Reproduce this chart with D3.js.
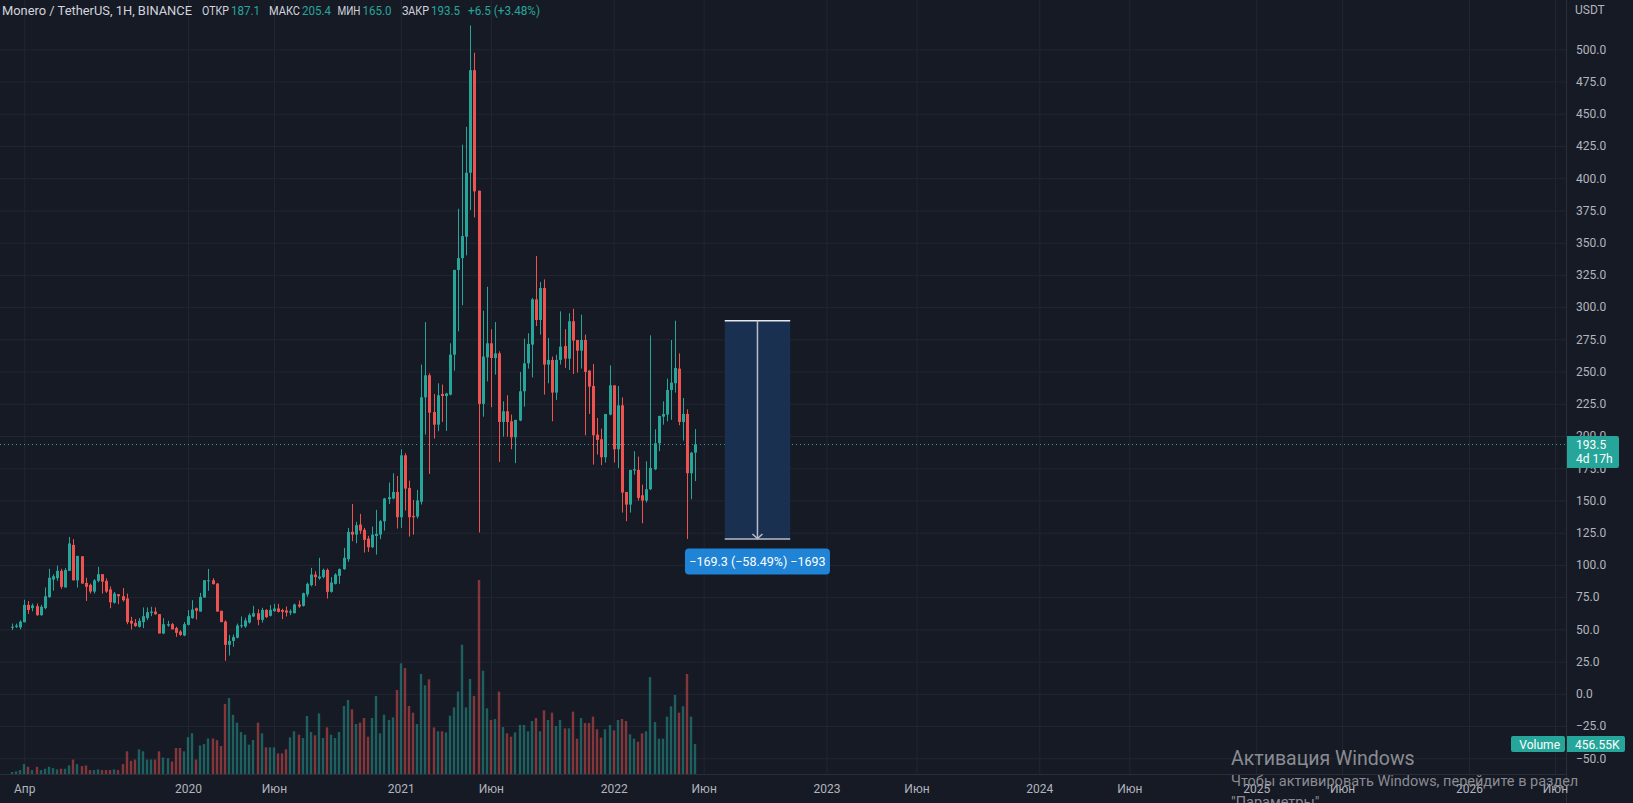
<!DOCTYPE html>
<html><head><meta charset="utf-8">
<script src="https://cdn.jsdelivr.net/npm/d3@7"></script>
<style>
html,body{margin:0;padding:0;background:#161a25;overflow:hidden}
svg{display:block}
text{font-family:Roboto,"Liberation Sans",sans-serif}
</style></head><body>
<svg id="c" width="1633" height="803"></svg>
<script>
// ---------- DATA ----------
const firstWeek = "2019-03-11"; // weekly bars, Monday dates
const openP = [51.5,52,51.5,55.5,69,66.5,68,61,66.5,75,88.6,89.7,95.4,82.5,95.4,115.5,88,106.7,86,84.5,79.3,87.6,92.8,87.6,81,70.6,77.3,75.7,74,56.6,55,52,55.6,58.7,62.8,63.8,61.8,46.8,53,54,51,48.3,45.2,53.5,58.7,66.4,63.8,74.7,87.6,88.1,85.5,64.4,56,38,41,43.5,52.5,52.2,55.3,60,62.5,57.4,65.1,60.5,64.1,66.2,65,64.6,63,62.5,69.3,68.2,77,84.3,92.5,89.5,90.5,96.1,79.1,85.3,91.5,96.7,104.4,125.6,123.5,131.3,127.2,120.4,113.7,122.5,123.5,133.9,151,151.5,156.6,137,185,159.7,138,137.5,149,230,247.1,218.6,208.8,232.6,231,232.1,263.1,328.8,338,354.6,404.2,483.8,390.3,224.9,261,271.9,260.5,264.1,210.9,219.2,211.4,199,212,234.7,256.4,270.9,306,290,314.8,255.4,259,233.7,259,269.8,260,289,274.5,266.2,274.5,250.7,238.8,201.1,197.5,183.5,216.6,239.3,189.7,223.8,156.6,146.8,173.2,173.7,154,149.9,158.7,174.2,194.4,215,216.6,235.7,240.9,252.3,210.9,217.1,171.1,187.1];
const highP = [54.5,54.5,57,73,72,70,70,69,82.5,97,92.7,99.5,97,97.5,121.7,120,107,106.7,90,85.5,89,98.5,92.8,89.5,83.3,79,77.3,82,77.8,59.7,58,58.7,67,67,67.5,67,61.8,58.7,56.6,55,52,49.3,55.6,65,72.6,66.9,78.3,88.1,96.9,89.7,86,64.4,57,45.7,46,54.5,60,59,62.5,68.2,65.6,66.7,65.6,68.8,69.8,69.8,66,67.7,65.5,70,72.4,78.5,86.3,97.7,95.1,105.5,97.2,97.2,90.5,93.5,97.2,113.2,128.7,147.3,133.4,139.6,128.7,122.5,129.7,142.7,134.9,152,163.9,171.1,169,189.7,186.6,165.4,150.4,158.2,255.4,288.4,248.6,232.6,240.9,239.9,233.5,271.9,329,376.3,426,439.9,518.5,497.3,390.3,297.2,315.8,282.8,288.4,265.7,226.9,231.6,216.6,212.5,249.7,275.5,279.7,307.1,339.6,319.5,321.5,276,261.6,263.1,296.7,282.8,295.2,298.8,274.5,294.1,278.6,251,255.9,214,205.7,217.1,254.8,239.3,238.8,230,156.6,173.7,188.2,184,162.3,180.4,278.1,205.2,215.6,226.9,244.5,274.5,289.4,264.1,229.5,220.7,187.7,205.4];
const lowP = [49.5,51,50,55.5,62,64,60.5,60.5,65.5,74.5,80,87.6,81.4,82.5,95.4,88,82.4,85.5,72,77.8,77.8,86.5,77.8,78.3,66.4,70,69.5,71.5,54,49.9,51.9,51.4,51,57.1,60.2,61.2,46.8,46.3,52,50,44.2,45,44.7,53,58.2,57.6,63.8,74.7,79.9,85,63.8,55.6,25.6,29.7,36.5,43,51,51.2,54.5,59.5,53.2,55.3,59,60,63.6,63.1,57.9,60,61,62.5,66.7,67.7,75.2,83.3,83.7,88.5,89.5,73.9,78.5,84.8,85.3,96.2,102.4,118.4,116.8,124,109.6,110.1,113.2,108,120,126.6,147.3,151,128.2,128.7,142.2,122,123.5,136,146.8,201.1,170.6,198,203.7,210.9,204,231.5,250.7,281.2,301.4,340.1,375.3,369.6,125.1,215,242.4,222.3,247.6,179.9,199.5,199.5,189.7,178.9,211.5,222.8,252.3,245.5,285.3,278.6,232.1,240.9,211.4,228,255.4,252.8,251.2,248.1,249.2,252.3,200.6,217.1,177.8,185.6,177.3,179.4,216,179.4,175.2,140.6,133.9,140.6,170,149.9,132.3,148.4,158,173.5,188.2,208.8,211.4,212.5,233.7,208.3,196.4,120.1,150.9,165.0];
const closeP = [52,53,56,69,65,68.5,61,67.5,75.7,90,91.2,95.4,83,96,116.6,88,107,85.5,83,79.3,88,92.8,87,79.3,71,77.8,75.7,72.6,55.6,54.5,52.5,56.6,60.2,63.3,63.8,61.8,46.8,54,54,50,47.3,45.7,54,60.2,65.4,64.4,75.2,88.1,88.1,85,63.8,55.6,38,41,44,53,53.2,56.9,61,62.5,57.4,65.1,59.4,65.1,66.2,63.6,63.6,63,64,69.3,67.7,78,85.3,92.5,90.5,91,96.1,79.1,86.3,92.5,96.7,105.5,125.6,123.5,130.8,126.6,119.4,113.7,123.5,124.1,133.9,151.5,152.5,156.6,137,185,159.2,137,137,150,230,247.1,218.1,208.8,231.6,231,233,263.1,328.8,338,355.1,404.2,483.8,389.8,224.9,261.6,271.9,260.5,264.1,210.9,219.2,210.9,199,212.5,234.7,256.4,271.4,306,290,314.8,255.4,259,233.7,259,269.3,260,289,274,266.2,274.5,249.7,238.3,200.6,197,183.5,217.1,239.3,189.7,223.8,156.1,146.8,173.7,174.2,152,149.9,158.7,175.2,194.4,215.6,217.1,235.7,241.4,252.8,210.9,217.1,171.1,187.0,193.5];
const volumeK = [30,40,60,150,110,60,110,60,80,110,90,70,80,80,130,220,150,120,130,60,60,70,60,60,60,70,60,150,345,200,220,375,345,220,220,220,345,250,240,190,395,395,345,560,620,220,435,455,540,540,515,425,1065,1155,900,780,638,598,446,517,780,618,405,405,405,314,314,375,557,649,598,547,882,638,588,922,547,709,598,547,638,1034,1125,983,760,780,851,567,851,1186,618,902,821,861,1277,1682,1611,1034,932,760,1520,1348,1439,709,649,649,633,887,1013,1252,1966,1013,1444,1186,2949,1571,998,821,836,1252,714,618,567,633,745,745,649,806,851,649,968,821,932,730,821,694,694,948,537,851,775,775,872,679,552,679,745,664,821,836,806,603,537,491,618,649,1474,790,537,537,872,1029,1201,932,1029,1520,872,456.55];
const priceTicks = [-50,-25,0,25,50,75,100,125,150,175,200,225,250,275,300,325,350,375,400,425,450,475,500];
const timeTickDates = ["2019-04-01","2020-01-06","2020-06-01","2021-01-04","2021-06-07","2022-01-03","2022-06-06","2023-01-02","2023-06-05","2024-01-01","2024-06-03","2025-01-06","2025-06-02","2026-01-05","2026-06-01"];
const timeTickLabels = ["Апр","2020","Июн","2021","Июн","2022","Июн","2023","Июн","2024","Июн","2025","Июн","2026","Июн"];
const lastPrice = 193.5;
const measureFrom = 289.4, measureTo = 120.1;
const measureStart = "2022-07-12", measureEnd = "2022-11-01";
const measureText = "\u2212169.3 (\u221258.49%) \u22121693";

// ---------- LAYOUT ----------
const W = 1633, H = 803, plotR = 1566, plotB = 774;
const UP = "#26a69a", DOWN = "#ef5350", GRID = "#222632", TXT = "#b2b5be";
const parse = d3.utcParse("%Y-%m-%d");
const t0 = parse(firstWeek);
const dates = openP.map((_, i) => d3.utcMonday.offset(t0, i));
const bars = dates.map((d, i) => ({d, o: openP[i], h: highP[i], l: lowP[i], c: closeP[i], v: volumeK[i]}));

const x = d3.scaleUtc().domain([parse("2020-01-06"), parse("2026-01-05")]).range([188, 1469]);
const y = d3.scaleLinear().domain([0, 500]).range([693.8, 49.3]);
const vy = d3.scaleLinear().domain([0, 3000]).range([plotB, plotB - 3000 / 15.2]);

const svg = d3.select("#c");
svg.append("rect").attr("width", W).attr("height", H).attr("fill", "#161a25");
svg.append("defs").append("clipPath").attr("id", "plot").append("rect")
  .attr("x", 0).attr("y", 0).attr("width", plotR).attr("height", plotB);

const tickDates = timeTickDates.map(parse);
// grid
const grid = svg.append("g").attr("clip-path", "url(#plot)");
grid.append("g").attr("transform", `translate(0,${plotB})`)
  .call(d3.axisBottom(x).tickValues(tickDates).tickSize(-plotB).tickFormat(""))
  .call(g => g.select(".domain").remove())
  .call(g => g.selectAll("line").attr("stroke", GRID).attr("stroke-width", 1));
grid.append("g")
  .call(d3.axisRight(y).tickValues(priceTicks).tickSize(plotR).tickFormat(""))
  .call(g => g.select(".domain").remove())
  .call(g => g.selectAll("line").attr("stroke", GRID).attr("stroke-width", 1));

const plot = svg.append("g").attr("clip-path", "url(#plot)");
const px = d => Math.round(x(d));
// volume
plot.append("g").selectAll("rect").data(bars).join("rect")
  .attr("x", b => px(b.d) - 1.2).attr("width", 2.4)
  .attr("y", b => vy(b.v)).attr("height", b => plotB - vy(b.v))
  .attr("fill", b => b.c >= b.o ? UP : DOWN).attr("fill-opacity", 0.5);
// candles
const cg = plot.append("g");
cg.selectAll("line").data(bars).join("line")
  .attr("x1", b => px(b.d) + 0.5).attr("x2", b => px(b.d) + 0.5)
  .attr("y1", b => y(b.h)).attr("y2", b => y(b.l))
  .attr("stroke", b => b.c >= b.o ? UP : DOWN).attr("stroke-width", 1);
cg.selectAll("rect").data(bars).join("rect")
  .attr("x", b => px(b.d) - 1).attr("width", 3)
  .attr("y", b => y(Math.max(b.o, b.c)))
  .attr("height", b => Math.max(1, Math.abs(y(b.o) - y(b.c))))
  .attr("fill", b => b.c >= b.o ? UP : DOWN);

// last price dotted line
plot.append("line").attr("x1", 0).attr("x2", plotR)
  .attr("y1", Math.round(y(lastPrice)) + 0.5).attr("y2", Math.round(y(lastPrice)) + 0.5)
  .attr("stroke", UP).attr("stroke-width", 1).attr("stroke-dasharray", "1,3");

// measure tool
const mx0 = x(parse(measureStart)), mx1 = x(parse(measureEnd));
const my0 = y(measureFrom), my1 = y(measureTo);
const mxc = (mx0 + mx1) / 2;
const mg = svg.append("g");
mg.append("rect").attr("x", mx0).attr("y", my0).attr("width", mx1 - mx0).attr("height", my1 - my0)
  .attr("fill", "#1a3050");
mg.append("line").attr("x1", mx0).attr("x2", mx1).attr("y1", my0).attr("y2", my0).attr("stroke", "#e6e8ee").attr("stroke-width", 1.5);
mg.append("line").attr("x1", mx0).attr("x2", mx1).attr("y1", my1).attr("y2", my1).attr("stroke", "#b8bcc6").attr("stroke-width", 1.5);
mg.append("line").attr("x1", mxc).attr("x2", mxc).attr("y1", my0).attr("y2", my1 - 1).attr("stroke", "#b8bcc6").attr("stroke-width", 1.5);
mg.append("path").attr("d", `M${mxc - 5},${my1 - 5} L${mxc},${my1 - 0.5} L${mxc + 5},${my1 - 5}`)
  .attr("fill", "none").attr("stroke", "#b8bcc6").attr("stroke-width", 1.5);
mg.append("rect").attr("x", mxc - 72.5).attr("y", my1 + 9.5).attr("width", 145).attr("height", 26).attr("rx", 4)
  .attr("fill", "#1f83d6");
mg.append("text").attr("x", mxc).attr("y", my1 + 27).attr("text-anchor", "middle")
  .attr("fill", "#ffffff").attr("font-size", 12.5).text(measureText);

// separators
svg.append("line").attr("x1", plotR + 0.5).attr("x2", plotR + 0.5).attr("y1", 0).attr("y2", H).attr("stroke", "#2a2e39");
svg.append("line").attr("x1", 0).attr("x2", plotR).attr("y1", plotB + 0.5).attr("y2", plotB + 0.5).attr("stroke", "#2a2e39");

// price axis
svg.append("g").attr("transform", `translate(${plotR},0)`)
  .call(d3.axisRight(y).tickValues(priceTicks).tickSize(0).tickPadding(10).tickFormat(d3.format(".1f")))
  .call(g => g.select(".domain").remove())
  .call(g => g.selectAll("text").attr("fill", TXT).attr("font-size", 12).attr("font-family", "Roboto,sans-serif"));
svg.append("text").attr("x", 1575).attr("y", 14).attr("fill", TXT).attr("font-size", 12).text("USDT");

// time axis
svg.append("g").attr("transform", `translate(0,${plotB})`)
  .call(d3.axisBottom(x).tickValues(tickDates).tickSize(0).tickPadding(10)
    .tickFormat((d, i) => timeTickLabels[i]))
  .call(g => g.select(".domain").remove())
  .call(g => g.selectAll("text").attr("fill", TXT).attr("font-size", 12).attr("font-family", "Roboto,sans-serif")
    .attr("dy", "0.71em"));

// last price label
const ly = Math.round(y(lastPrice));
svg.append("path").attr("d", `M${plotR + 1},${ly - 8} h50 a2,2 0 0 1 2,2 v28 a2,2 0 0 1 -2,2 h-50 z`).attr("fill", UP);
svg.append("text").attr("x", 1576).attr("y", ly + 4.5).attr("fill", "#fff").attr("font-size", 12).text(d3.format(".1f")(lastPrice));
svg.append("text").attr("x", 1576).attr("y", ly + 19).attr("fill", "#fff").attr("font-size", 12).text("4d 17h");

// volume label
const lastV = volumeK[volumeK.length - 1];
const vly = 744;
svg.append("rect").attr("x", 1511).attr("y", vly - 8).attr("width", 54).attr("height", 16).attr("rx", 2).attr("fill", UP);
svg.append("text").attr("x", 1560).attr("y", vly + 4.5).attr("text-anchor", "end").attr("fill", "#fff").attr("font-size", 12).text("Volume");
svg.append("path").attr("d", `M${plotR + 1},${vly - 8} h56 a2,2 0 0 1 2,2 v12 a2,2 0 0 1 -2,2 h-56 z`).attr("fill", UP);
svg.append("text").attr("x", 1575).attr("y", vly + 4.5).attr("fill", "#fff").attr("font-size", 12).text(d3.format(".2f")(lastV) + "K");

// header
const last = bars[bars.length - 1];
const prevClose = closeP[closeP.length - 2];
const hdr = svg.append("g").attr("font-size", 13);
hdr.append("text").attr("x", 2).attr("y", 15).attr("fill", "#d1d4dc")
  .attr("textLength", 190).attr("lengthAdjust", "spacingAndGlyphs").text("Monero / TetherUS, 1H, BINANCE");
const hv = [["ОТКР", 202, 27, last.o, 231], ["МАКС", 269, 31, last.h, 302], ["МИН", 337.5, 23, last.l, 362.5], ["ЗАКР", 402, 27, last.c, 431]];
hv.forEach(([lab, lx, lw, val, vx]) => {
  hdr.append("text").attr("x", lx).attr("y", 15).attr("fill", "#d1d4dc")
    .attr("textLength", lw).attr("lengthAdjust", "spacingAndGlyphs").text(lab);
  hdr.append("text").attr("x", vx).attr("y", 15).attr("fill", UP)
    .attr("textLength", 29).attr("lengthAdjust", "spacingAndGlyphs").text(d3.format(".1f")(val));
});
const chg = last.c - prevClose;
hdr.append("text").attr("x", 468).attr("y", 15).attr("fill", UP)
  .attr("textLength", 72).attr("lengthAdjust", "spacingAndGlyphs")
  .text("+" + d3.format(".1f")(chg) + " (+" + d3.format(".2f")(chg / prevClose * 100) + "%)");

// Windows watermark
const wm = svg.append("g").attr("fill", "#8a8c92").attr("font-family", "'Open Sans','Noto Sans',sans-serif");
wm.append("text").attr("x", 1231).attr("y", 765).attr("font-size", 19.5).text("Активация Windows");
wm.append("text").attr("x", 1231).attr("y", 786).attr("font-size", 14.5).text("Чтобы активировать Windows, перейдите в раздел");
wm.append("text").attr("x", 1231).attr("y", 807).attr("font-size", 14.5).text("\"Параметры\".");
</script>
</body></html>
